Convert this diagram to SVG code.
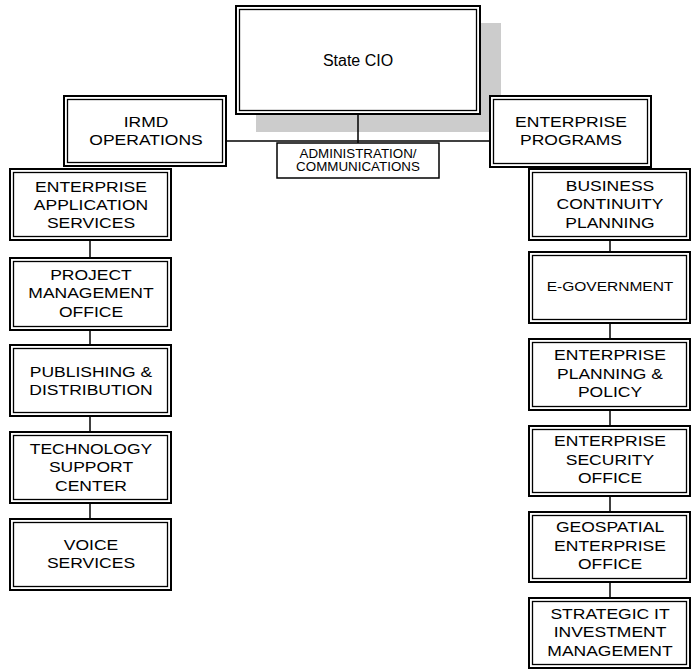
<svg xmlns="http://www.w3.org/2000/svg" width="695" height="671" viewBox="0 0 695 671">
<style>
.o{fill:#fff;stroke:#000;stroke-width:2}
.i{fill:none;stroke:#000;stroke-width:1.3}
text{font-family:"Liberation Sans",Arial,sans-serif;font-size:15.5px;text-anchor:middle;fill:#000}
.s{font-size:12.5px}
.e{font-size:13.5px}
.c{fill:none;stroke:#000;stroke-width:1.5}
</style>
<rect x="256" y="23" width="245" height="109" fill="#cccccc"/>
<g id="connectors">
<line class="c" x1="358" y1="114" x2="358" y2="143"/>
<line class="c" x1="227" y1="141" x2="489" y2="141"/>
<line class="c" x1="90" y1="241" x2="90" y2="257"/>
<line class="c" x1="90" y1="331" x2="90" y2="344"/>
<line class="c" x1="90" y1="417" x2="90" y2="431"/>
<line class="c" x1="90" y1="504" x2="90" y2="518"/>
<line class="c" x1="610" y1="241" x2="610" y2="251"/>
<line class="c" x1="610" y1="324" x2="610" y2="338"/>
<line class="c" x1="610" y1="411" x2="610" y2="425"/>
<line class="c" x1="610" y1="497" x2="610" y2="511"/>
<line class="c" x1="610" y1="583" x2="610" y2="597"/>
</g>
<g id="state-cio">
<rect class="o" x="236" y="6" width="244" height="108"/>
<rect class="i" x="239.5" y="9.5" width="237" height="101"/>
<text x="358" y="66" style="font-size:16px">State CIO</text>
</g>
<g id="admin">
<rect class="c" x="277" y="143" width="162" height="35" fill="#fff"/>
<g transform="translate(358 0) scale(1.07 1)">
<text class="s" x="0" y="158">ADMINISTRATION/</text>
<text class="s" x="0" y="171">COMMUNICATIONS</text>
</g>
</g>
<g id="irmd">
<rect class="o" x="64" y="96" width="162" height="70"/>
<rect class="i" x="67.5" y="99.5" width="155" height="63"/>
<g transform="translate(146 0) scale(1.13 1)">
<text x="0" y="127">IRMD</text>
<text x="0" y="145">OPERATIONS</text>
</g>
</g>
<g id="enterprise-programs">
<rect class="o" x="490" y="96" width="161" height="71"/>
<rect class="i" x="493.5" y="99.5" width="154" height="64"/>
<g transform="translate(571 0) scale(1.13 1)">
<text x="0" y="127">ENTERPRISE</text>
<text x="0" y="145">PROGRAMS</text>
</g>
</g>
<g id="eas">
<rect class="o" x="10" y="169" width="161" height="71"/>
<rect class="i" x="13.5" y="172.5" width="154" height="64"/>
<g transform="translate(91 0) scale(1.13 1)">
<text x="0" y="192">ENTERPRISE</text>
<text x="0" y="210">APPLICATION</text>
<text x="0" y="228">SERVICES</text>
</g>
</g>
<g id="pmo">
<rect class="o" x="10" y="258" width="161" height="72"/>
<rect class="i" x="13.5" y="261.5" width="154" height="65"/>
<g transform="translate(91 0) scale(1.13 1)">
<text x="0" y="280">PROJECT</text>
<text x="0" y="298">MANAGEMENT</text>
<text x="0" y="317">OFFICE</text>
</g>
</g>
<g id="publishing">
<rect class="o" x="10" y="345" width="161" height="71"/>
<rect class="i" x="13.5" y="348.5" width="154" height="64"/>
<g transform="translate(91 0) scale(1.13 1)">
<text x="0" y="377">PUBLISHING &amp;</text>
<text x="0" y="395">DISTRIBUTION</text>
</g>
</g>
<g id="tsc">
<rect class="o" x="10" y="432" width="161" height="71"/>
<rect class="i" x="13.5" y="435.5" width="154" height="64"/>
<g transform="translate(91 0) scale(1.13 1)">
<text x="0" y="454">TECHNOLOGY</text>
<text x="0" y="472">SUPPORT</text>
<text x="0" y="491">CENTER</text>
</g>
</g>
<g id="voice">
<rect class="o" x="10" y="519" width="161" height="71"/>
<rect class="i" x="13.5" y="522.5" width="154" height="64"/>
<g transform="translate(91 0) scale(1.13 1)">
<text x="0" y="550">VOICE</text>
<text x="0" y="568">SERVICES</text>
</g>
</g>
<g id="bcp">
<rect class="o" x="529" y="169" width="161" height="71"/>
<rect class="i" x="532.5" y="172.5" width="154" height="64"/>
<g transform="translate(610 0) scale(1.13 1)">
<text x="0" y="191">BUSINESS</text>
<text x="0" y="209">CONTINUITY</text>
<text x="0" y="228">PLANNING</text>
</g>
</g>
<g id="egov">
<rect class="o" x="529" y="252" width="161" height="71"/>
<rect class="i" x="532.5" y="255.5" width="154" height="64"/>
<g transform="translate(610 0) scale(1.15 1)">
<text class="e" x="0" y="291">E-GOVERNMENT</text>
</g>
</g>
<g id="epp">
<rect class="o" x="529" y="339" width="161" height="71"/>
<rect class="i" x="532.5" y="342.5" width="154" height="64"/>
<g transform="translate(610 0) scale(1.13 1)">
<text x="0" y="360">ENTERPRISE</text>
<text x="0" y="379">PLANNING &amp;</text>
<text x="0" y="397">POLICY</text>
</g>
</g>
<g id="eso">
<rect class="o" x="529" y="426" width="161" height="70"/>
<rect class="i" x="532.5" y="429.5" width="154" height="63"/>
<g transform="translate(610 0) scale(1.13 1)">
<text x="0" y="446">ENTERPRISE</text>
<text x="0" y="465">SECURITY</text>
<text x="0" y="483">OFFICE</text>
</g>
</g>
<g id="geo">
<rect class="o" x="529" y="512" width="161" height="70"/>
<rect class="i" x="532.5" y="515.5" width="154" height="63"/>
<g transform="translate(610 0) scale(1.13 1)">
<text x="0" y="532">GEOSPATIAL</text>
<text x="0" y="551">ENTERPRISE</text>
<text x="0" y="569">OFFICE</text>
</g>
</g>
<g id="sit">
<rect class="o" x="529" y="598" width="161" height="70"/>
<rect class="i" x="532.5" y="601.5" width="154" height="63"/>
<g transform="translate(610 0) scale(1.13 1)">
<text x="0" y="619">STRATEGIC IT</text>
<text x="0" y="637">INVESTMENT</text>
<text x="0" y="656">MANAGEMENT</text>
</g>
</g>
</svg>
